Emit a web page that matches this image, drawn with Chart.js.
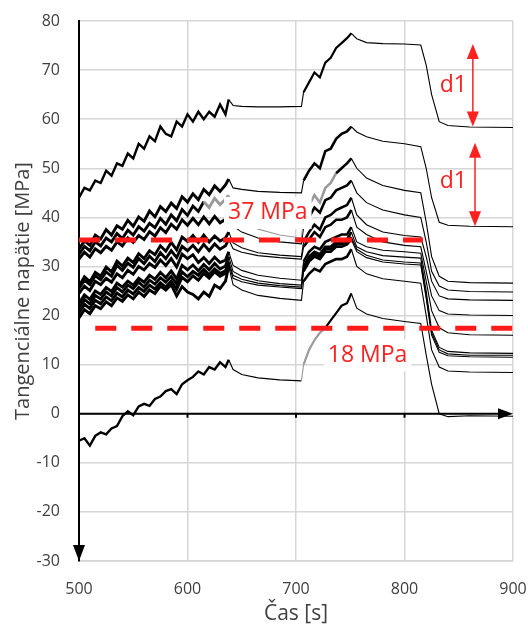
<!DOCTYPE html>
<html>
<head>
<meta charset="utf-8">
<script src="https://cdn.jsdelivr.net/npm/chart.js@4.4.1/dist/chart.umd.min.js"></script>
<style>
  html, body { margin: 0; padding: 0; background: #fff; }
  #wrap { width: 528px; height: 629px; }
</style>
</head>
<body>
<div id="wrap"><canvas id="stressChart" width="528" height="629"></canvas></div>
<script>
// time axis shared by all gauges [s]
const times = [500,505,510,515,520,525,530,535,540,545,550,555,560,565,570,575,580,585,590,595,600,605,610,615,620,625,630,635,
  638, 642,650,665,685,705,
  707,712,717,722,727,732,737,742,747, 751, 756,765,780,800,815, 820,825,832,840, 860,900];

// tangential stress per gauge [MPa]
const g1 = [44,46,45.5,47.5,47,49.5,48.5,51,50.5,53,52,55,54,56.5,55.5,58.5,57,56.5,59.5,58.5,61,59.5,61.5,60,61.5,60.5,63,61,
  64, 62.8,62.6,62.5,62.5,62.6,
  65.5,67.5,69.5,68.5,71.5,72.5,74.5,75.5,76.5,77.5,76.4,75.6,75.4,75.3,75.1,71,65,59.5,58.7,58.4,58.3];
const g2 = [33.5,35.2,34.3,36.4,35.6,37.5,36.4,38.3,37.6,39.4,38.2,40.1,39.2,41.3,40.1,42.2,41.2,42.9,41.8,44.2,43.1,44.8,43.6,45.7,44.6,46.4,45.3,46.6,
  47.8, 46.0,45.7,45.3,45.1,45.0,
  47.5,49.5,51,50,53.5,54,56,57,57.5,58.5,57.4,56.4,55.5,55,54.4,50,44,39,38.4,38.2,38.1];
const g3 = [32.5,34.1,33.2,35.0,34.2,35.8,35.0,36.7,35.7,37.4,36.4,38.1,37.2,38.8,37.9,39.8,38.6,40.5,39.3,41.6,40.4,42.3,41.2,43.2,42.0,43.9,42.6,43.7,
  44.5, 41.5,39.8,37.6,36.4,35.8,
  40,42.5,44.5,43,46,47,49,50,51,52,50,48,46.5,45.5,45,39,32,28,27,26.7,26.6];
const g4 = [31.5,32.9,31.9,33.6,32.8,34.1,33.3,35.0,34.2,35.8,34.9,36.3,35.5,37.1,36.2,37.9,36.9,38.6,37.6,39.5,38.4,39.8,38.5,40.1,38.7,40.2,38.9,39.6,
  40.5, 38.2,37.0,35.8,35.0,34.6,
  38,40,42,41,43.5,44,45.5,46,46.5,47.5,45,43,41.5,40.5,40,35,29,26,25.2,24.9,24.8];
const g5 = [26.0,27.9,26.9,28.8,28.0,29.9,28.9,31.1,30.1,31.7,30.8,32.6,31.6,33.2,32.4,34.2,33.1,34.9,33.4,36.0,35.1,36.3,34.9,36.4,35.0,36.2,35.2,35.8,
  37, 34.8,33.8,32.8,32.3,32.0,
  35,37,38.5,37.5,40,40.5,41.5,42,42.5,44,40.5,38.5,37,36.3,36,32,27,24,23.4,23.2,23.1];
const g6 = [25.5,27.2,26.3,28.1,27.3,28.9,28.0,30.2,29.2,30.7,29.8,31.6,30.6,32.1,31.0,32.8,31.6,33.2,31.8,34.1,33.2,34.3,33.0,34.5,33.2,34.6,33.5,34.2,
  35.5, 33.6,32.9,32.2,31.8,31.5,
  34,35.5,37,36,38,38.5,39.5,39.5,40,41.5,38,36.5,35,34.3,34,29,24,21,20.3,20.1,20];
const g7 = [24.5,26.0,25.1,27.0,26.3,27.6,26.8,28.5,27.7,29.2,28.4,30.0,29.3,30.6,29.8,31.3,30.2,31.6,29.9,32.5,31.6,32.4,30.8,31.8,30.6,31.9,30.8,31.3,
  33, 30.2,29.2,28.2,27.6,27.2,
  31,33,34,33.5,35,35.5,36,36.5,36.5,38,35,34,33.3,33,32.7,27,21,17.5,16.5,16.1,16];
const g8 = [22.5,24.2,23.3,25.0,24.3,25.7,24.9,26.6,25.8,27.0,26.2,27.6,26.8,28.2,27.4,28.8,27.7,29.1,27.5,30.2,29.3,30.3,29.1,30.4,29.3,30.6,29.5,30.1,
  32, 29.0,28.0,27.1,26.5,26.2,
  30,32,33,32.5,34,34,35,35,35.5,37,34,33,32.2,31.9,31.7,25,17,13.5,12.7,12.4,12.3];
const g9 = [21.5,23.3,22.4,24.1,23.4,24.8,24.0,25.7,24.8,26.2,25.5,26.8,25.8,27.2,26.4,27.7,26.8,28.0,26.4,28.9,27.9,29.0,28.2,29.4,28.3,29.5,28.6,29.1,
  31, 28.2,27.4,26.6,26.1,25.8,
  29.5,31.5,32.5,32,33.5,33.5,34.5,34.5,35,36,33.5,32.3,31.3,30.9,30.7,24,16.5,13,12.2,11.9,11.9];
const g10 = [20.5,22.3,21.4,23.1,22.4,23.8,23.0,24.6,23.8,25.2,24.4,25.7,24.9,26.2,25.4,26.7,25.8,27.0,25.3,27.8,26.9,28.1,27.2,28.6,27.6,28.9,28.0,28.6,
  30.5, 27.6,26.9,26.2,25.8,25.5,
  29,31,32,31.5,33,33,34,34,34.5,35.5,33,31.8,30.9,30.5,30.3,23.5,16,12.5,11.8,11.6,11.5];
const g11 = [19.5,21.2,20.4,22.0,21.4,22.8,22.0,23.6,22.9,24.2,23.4,24.8,23.9,25.2,24.5,26.0,25.2,26.3,24.0,25.9,24.8,24.3,23.4,24.8,23.9,26.2,25.5,27.0,
  30, 26.3,25.2,24.1,23.5,23.1,
  27,28.5,29.5,29,30.5,31,31.5,31.5,32,33.5,30,28.5,27.5,27,26.6,20,13,9.5,8.7,8.5,8.4];
const g12 = [-5.5,-5,-6.5,-4.5,-3.8,-4.2,-3,-2.5,-0.5,0.5,-0.3,1.5,2,1.6,3,3.5,4.6,5,4,6,6.8,7.5,8.6,8,9.5,9,10.5,9.5,
  11, 9,8,7.3,6.9,6.7,
  10,13,15,16.5,17.5,19,20.5,22,22.5,24.5,21.5,20.3,19.4,18.8,18.4,12,6,0,-0.6,-0.4,-0.5];

// red reference levels
const highLimitX = [500, 817];
const highLimit = [35.4, 35.4];
const lowLimitX = [515, 900];
const lowLimit = [17.4, 17.4];

const xTicks = [500, 600, 700, 800, 900];
const yTicks = [-30, -20, -10, 0, 10, 20, 30, 40, 50, 60, 70, 80];

const gauges = [g1, g2, g3, g4, g5, g6, g7, g8, g9, g10, g11, g12];
const GREY = '#9a9a9a';

var toPoints = (xs, ys) => xs.map((t, i) => ({ x: t, y: ys[i] }));

var greyPart = (idx) => (ctx) => {
  var a = ctx.p0.parsed.x, b = ctx.p1.parsed.x;
  if (idx === 2 && a >= 615 && b <= 737) return GREY;
  if (idx === 11 && a >= 705 && b <= 727) return GREY;
  return undefined;
};

// noisy loading phases are drawn heavier than the smooth relaxation parts
var widthPart = (idx) => (ctx) => {
  var a = ctx.p0.parsed.x;
  var outer = idx === 0 || idx === 11;
  if (a < 638) return outer ? 2.4 : 2.9;
  if (a >= 707 && a < 751) return outer ? 2.2 : 2.6;
  return 1.1;
};

var datasets = [
  { data: toPoints(highLimitX, highLimit), borderColor: '#ff1a1a', borderWidth: 5, borderDash: [21, 15], pointRadius: 0 },
  { data: toPoints(lowLimitX, lowLimit), borderColor: '#ff1a1a', borderWidth: 5, borderDash: [21, 15], pointRadius: 0 }
];
gauges.forEach((g, i) => {
  datasets.push({
    data: toPoints(times, g),
    borderColor: '#000',
    borderWidth: 1.4,
    pointRadius: 0,
    tension: 0,
    segment: { borderColor: greyPart(i), borderWidth: widthPart(i) }
  });
});

// labels, zero axis and arrows on top of the lines
const overlay = {
  id: 'overlay',
  afterDatasetsDraw(chart) {
    const { ctx, chartArea: a, scales: { x, y } } = chart;
    ctx.save();

    // zero line with arrow
    var y0 = y.getPixelForValue(0);
    ctx.strokeStyle = '#000';
    ctx.fillStyle = '#000';
    ctx.lineWidth = 2;
    ctx.beginPath();
    ctx.moveTo(a.left, y0);
    ctx.lineTo(a.right - 12, y0);
    ctx.stroke();
    ctx.beginPath();
    ctx.moveTo(a.right, y0);
    ctx.lineTo(a.right - 15, y0 - 5.5);
    ctx.lineTo(a.right - 15, y0 + 5.5);
    ctx.closePath();
    ctx.fill();
    [600, 700, 800].forEach(v => {
      var px = x.getPixelForValue(v);
      ctx.beginPath();
      ctx.moveTo(px, y0);
      ctx.lineTo(px, y0 + 4);
      ctx.stroke();
    });

    // y axis arrow pointing down
    ctx.beginPath();
    ctx.moveTo(a.left, a.bottom);
    ctx.lineTo(a.left - 6, a.bottom - 16);
    ctx.lineTo(a.left + 6, a.bottom - 16);
    ctx.closePath();
    ctx.fill();

    // red texts
    ctx.font = '23px "Open Sans"';
    ctx.textAlign = 'center';
    ctx.textBaseline = 'middle';
    var label = (txt, vx, vy, box) => {
      var px = x.getPixelForValue(vx), py = y.getPixelForValue(vy);
      if (box) {
        var w = ctx.measureText(txt).width;
        ctx.fillStyle = '#fff';
        ctx.fillRect(px - w / 2 - 4, py - 16, w + 8, 32);
      }
      ctx.fillStyle = '#ff2020';
      ctx.fillText(txt, px, py);
    };
    label('37 MPa', 674, 40.9, true);
    label('18 MPa', 766, 11.9, true);
    label('d1', 845, 66.9, false);
    label('d1', 845, 47.4, false);

    // d1 double arrows
    var dArrow = (vx, top, bot) => {
      var px = x.getPixelForValue(vx);
      var pt = y.getPixelForValue(top), pb = y.getPixelForValue(bot);
      ctx.strokeStyle = '#ff2020';
      ctx.fillStyle = '#ff2020';
      ctx.lineWidth = 1.5;
      ctx.beginPath();
      ctx.moveTo(px, pt + 10);
      ctx.lineTo(px, pb - 10);
      ctx.stroke();
      ctx.beginPath();
      ctx.moveTo(px, pt);
      ctx.lineTo(px - 6, pt + 15);
      ctx.lineTo(px + 6, pt + 15);
      ctx.closePath();
      ctx.fill();
      ctx.beginPath();
      ctx.moveTo(px, pb);
      ctx.lineTo(px - 6, pb - 15);
      ctx.lineTo(px + 6, pb - 15);
      ctx.closePath();
      ctx.fill();
    };
    dArrow(863, 75.3, 58.5);
    dArrow(865, 55.2, 38.2);

    ctx.restore();
  }
};

new Chart('stressChart', {
  type: 'line',
  data: { datasets: datasets },
  plugins: [overlay],
  options: {
    responsive: false,
    animation: false,
    layout: { padding: { top: 21, right: 15, bottom: 0, left: 0 } },
    plugins: { legend: { display: false }, tooltip: { enabled: false } },
    scales: {
      x: {
        type: 'linear',
        min: 500, max: 900,
        afterBuildTicks: s => { s.ticks = xTicks.map(v => ({ value: v })); },
        afterFit: s => { s.height = 68; },
        grid: { color: '#d6d6d6', lineWidth: 1.5, drawTicks: true, tickLength: 19, tickColor: 'rgba(0,0,0,0)' },
        border: { color: '#d6d6d6', width: 1.5 },
        ticks: { padding: 0, color: '#404040', font: { family: 'Open Sans', size: 16 } },
        title: { display: true, text: 'Čas [s]', color: '#404040', padding: { top: 0, bottom: 2 },
          font: { family: 'Open Sans', size: 21 } }
      },
      y: {
        min: -30, max: 80,
        afterBuildTicks: s => { s.ticks = yTicks.map(v => ({ value: v })); },
        afterFit: s => { s.width = 79; },
        grid: { color: '#d6d6d6', lineWidth: 1.5, drawTicks: true, tickLength: 19, tickColor: 'rgba(0,0,0,0)' },
        border: { color: '#000', width: 2 },
        ticks: { padding: 0, color: '#404040', font: { family: 'Open Sans', size: 16 } },
        title: { display: true, text: 'Tangenciálne napätie [MPa]', color: '#404040', padding: { top: 11, bottom: 0 },
          font: { family: 'Open Sans', size: 20 } }
      }
    }
  }
});
</script>
</body>
</html>
